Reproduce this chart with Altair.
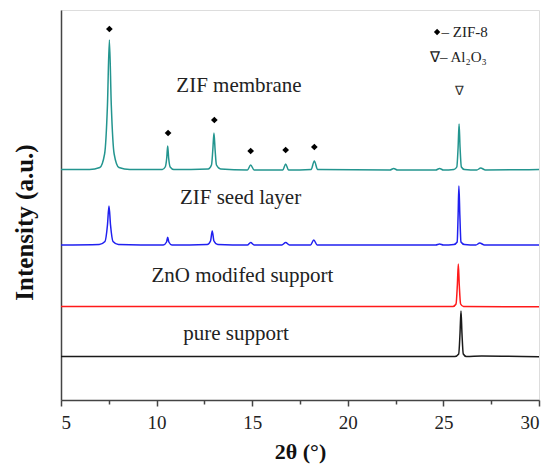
import altair as alt
import pandas as pd

# ---- data (2theta in degrees, intensity in a.u. incl. stacking offset) ----
membrane_x = [5, 6.5, 7.03, 7.28, 7.43, 7.53, 7.63, 7.78, 8.03, 8.6,
              10.3, 10.45, 10.53, 10.58, 10.63, 10.71, 10.9,
              12.7, 12.87, 12.94, 13.0, 13.06, 13.13, 13.35,
              14.75, 14.92, 15.1, 16.6, 16.75, 16.9, 18.08, 18.25, 18.42,
              22.2, 22.4, 22.6, 24.6, 24.8, 25.0,
              25.55, 25.7, 25.77, 25.82, 25.87, 25.94, 26.1,
              26.75, 26.95, 27.2, 30]
membrane_y = [230.5, 230.5, 232.5, 246, 295, 360, 295, 246, 232.5, 230.5,
              230.5, 233, 242, 254, 242, 233, 230.5,
              231, 235, 250, 267, 250, 235, 231,
              230, 235, 230, 230, 236, 230, 230.5, 239, 230.5,
              230, 231.5, 230, 230, 231.5, 230,
              230.5, 233, 253, 276, 253, 233, 230.5,
              230, 232, 230, 230.5]

seed_x = [5, 7.0, 7.3, 7.43, 7.51, 7.59, 7.72, 8.0,
          10.35, 10.52, 10.58, 10.64, 10.8,
          12.65, 12.82, 12.91, 13.0, 13.2,
          14.75, 14.92, 15.1, 16.55, 16.75, 16.95, 18.05, 18.22, 18.4,
          24.6, 24.8, 25.0, 25.55, 25.72, 25.77, 25.81, 25.86, 25.92, 26.1,
          26.7, 26.9, 27.15, 30]
seed_y = [155, 155.5, 158.5, 175, 194, 175, 158.5, 155.5,
          155, 158, 162.7, 158, 155,
          155.5, 159, 169, 159, 155.5,
          155, 157.5, 155, 155, 157.5, 155, 155, 160, 155,
          155, 156, 155, 155.5, 158, 185, 214, 185, 158, 155.5,
          155, 157, 155, 155]

zno_x = [5, 25.5, 25.66, 25.73, 25.78, 25.83, 25.9, 26.05, 30]
zno_y = [93.5, 93.5, 96, 115, 136, 115, 96, 93.5, 93.3]

pure_x = [5, 25.6, 25.8, 25.87, 25.92, 25.97, 26.04, 26.2, 27.0, 30]
pure_y = [43.5, 43.5, 46, 67, 89, 67, 46, 43.5, 44, 43.3]

series_names = ["ZIF membrane", "ZIF seed layer", "ZnO modifed support", "pure support"]
series_colors = ["#23958f", "#2020f0", "#ff1a1a", "#1a1a1a"]

# ZIF-8 reflection markers
zif_x = [7.53, 10.6, 13.02, 14.92, 16.75, 18.25]
zif_y = [371, 267, 280, 249, 250, 253]

# curve labels
label_text = ["ZIF membrane", "ZIF seed layer", "ZnO modifed support", "pure support"]
label_x = [14.31, 14.39, 14.49, 14.15]
label_y = [308, 195.7, 118.3, 60]

# ---- build tables ----
rows = []
for name, xs, ys in zip(series_names,
                        [membrane_x, seed_x, zno_x, pure_x],
                        [membrane_y, seed_y, zno_y, pure_y]):
    for xv, yv in zip(xs, ys):
        rows.append({"x": xv, "y": yv, "series": name})
df = pd.DataFrame(rows)
df_zif = pd.DataFrame({"x": zif_x, "y": zif_y})
df_lab = pd.DataFrame({"t": label_text, "x": label_x, "y": label_y})
df_tri = pd.DataFrame({"t": ["\u2207"], "x": [25.82], "y": [309]})
df_leg_d = pd.DataFrame({"x": [24.67], "y": [368]})
df_leg_t = pd.DataFrame({"t": ["\u2013 ZIF-8", "\u2207\u2013 Al\u2082O\u2083"],
                         "x": [24.9, 24.3], "y": [363, 338]})

FONT = "Liberation Serif"
xscale = alt.Scale(domain=[5, 30], nice=False, zero=False)
yscale = alt.Scale(domain=[0, 390], nice=False, zero=False)

xaxis = alt.Axis(
    title="2\u03b8 (\u00b0)",
    values=[5, 7.5, 10, 12.5, 15, 17.5, 20, 22.5, 25, 27.5, 30],
    labelExpr="datum.value % 5 == 0 ? datum.label : ''",
    grid=False,
    tickSize={"condition": {"test": "datum.value % 5 == 0", "value": 6}, "value": 4},
    tickColor="#444", tickWidth=1.5,
    domainColor="#444", domainWidth=1.5,
    labelFont=FONT, labelFontSize=19, labelColor="#222", labelPadding=7,
    titleFont=FONT, titleFontSize=22, titleFontWeight="bold", titleColor="#111",
    titlePadding=9,
)
yaxis = alt.Axis(
    title="Intensity (a.u.)", labels=False, ticks=False, grid=False,
    domainColor="#444", domainWidth=1.5,
    titleFont=FONT, titleFontSize=25, titleFontWeight="bold", titleColor="#111",
    titlePadding=24, titleY=212,
)

lines = alt.Chart(df).mark_line(strokeWidth=1.5, interpolate="monotone").encode(
    x=alt.X("x:Q", scale=xscale, axis=xaxis),
    y=alt.Y("y:Q", scale=yscale, axis=yaxis),
    color=alt.Color("series:N", scale=alt.Scale(domain=series_names, range=series_colors), legend=None),
)

diamonds = alt.Chart(df_zif).mark_point(shape="diamond", filled=True, color="black", size=45, opacity=1).encode(
    x=alt.X("x:Q", scale=xscale), y=alt.Y("y:Q", scale=yscale))

labels = alt.Chart(df_lab).mark_text(font=FONT, fontSize=21, color="#222", align="center", baseline="alphabetic").encode(
    x=alt.X("x:Q", scale=xscale), y=alt.Y("y:Q", scale=yscale), text="t:N")

tri = alt.Chart(df_tri).mark_text(font=FONT, fontSize=13, color="#333", align="center", baseline="middle").encode(
    x=alt.X("x:Q", scale=xscale), y=alt.Y("y:Q", scale=yscale), text="t:N")

leg_d = alt.Chart(df_leg_d).mark_point(shape="diamond", filled=True, color="black", size=40, opacity=1).encode(
    x=alt.X("x:Q", scale=xscale), y=alt.Y("y:Q", scale=yscale))

leg_t = alt.Chart(df_leg_t).mark_text(font=FONT, fontSize=15, color="#222", align="left", baseline="alphabetic").encode(
    x=alt.X("x:Q", scale=xscale), y=alt.Y("y:Q", scale=yscale), text="t:N")

chart = alt.layer(lines, diamonds, labels, tri, leg_d, leg_t).properties(
    width=478, height=390,
    padding={"left": 53, "top": 2, "right": 6, "bottom": 66},
    autosize=alt.AutoSizeParams(type="none"),
).configure_view(stroke="#444", strokeWidth=1.5).configure(background="white")

chart.save("out.html", embed_options={"renderer": "svg", "actions": False})
